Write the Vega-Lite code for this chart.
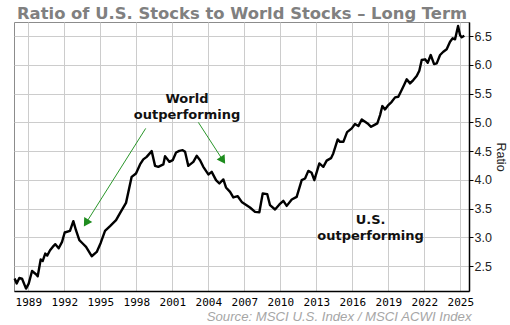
{
  "$schema": "https://vega.github.io/schema/vega-lite/v6.json",
  "width": 455,
  "height": 269,
  "autosize": {"type": "none"},
  "padding": {"left": 14, "top": 22, "right": 41, "bottom": 34},
  "background": "white",
  "config": {
    "view": {"stroke": "#8c8c8c", "strokeWidth": 1},
    "axis": {"gridColor": "#cccccc", "gridWidth": 1}
  },
  "title": {
    "text": "Ratio of U.S. Stocks to World Stocks – Long Term",
    "anchor": "start",
    "frame": "group",
    "dx": 3,
    "dy": 18,
    "offset": 5,
    "baseline": "alphabetic",
    "font": "DejaVu Sans",
    "fontSize": 16.4,
    "fontWeight": "bold",
    "color": "#808080"
  },
  "datasets": {
    "series": [
      {"year": 1987.86, "ratio": 2.286}, {"year": 1988.03, "ratio": 2.199}, {"year": 1988.25, "ratio": 2.297},
      {"year": 1988.47, "ratio": 2.286}, {"year": 1988.81, "ratio": 2.112}, {"year": 1989.03, "ratio": 2.199},
      {"year": 1989.31, "ratio": 2.418}, {"year": 1989.64, "ratio": 2.361}, {"year": 1989.78, "ratio": 2.326},
      {"year": 1990.03, "ratio": 2.617}, {"year": 1990.2, "ratio": 2.592}, {"year": 1990.41, "ratio": 2.721},
      {"year": 1990.58, "ratio": 2.686}, {"year": 1990.81, "ratio": 2.778}, {"year": 1991.03, "ratio": 2.836},
      {"year": 1991.25, "ratio": 2.883}, {"year": 1991.53, "ratio": 2.813}, {"year": 1991.81, "ratio": 2.923},
      {"year": 1992.03, "ratio": 3.086}, {"year": 1992.47, "ratio": 3.114}, {"year": 1992.75, "ratio": 3.283},
      {"year": 1992.97, "ratio": 3.126}, {"year": 1993.25, "ratio": 2.952}, {"year": 1993.53, "ratio": 2.895},
      {"year": 1993.81, "ratio": 2.836}, {"year": 1994.28, "ratio": 2.674}, {"year": 1994.7, "ratio": 2.749},
      {"year": 1995.03, "ratio": 2.905}, {"year": 1995.39, "ratio": 3.114}, {"year": 1995.81, "ratio": 3.196},
      {"year": 1996.31, "ratio": 3.3}, {"year": 1996.7, "ratio": 3.444}, {"year": 1997.14, "ratio": 3.601},
      {"year": 1997.61, "ratio": 4.053}, {"year": 1997.97, "ratio": 4.112}, {"year": 1998.31, "ratio": 4.269},
      {"year": 1998.58, "ratio": 4.356}, {"year": 1998.86, "ratio": 4.401}, {"year": 1999.28, "ratio": 4.5},
      {"year": 1999.56, "ratio": 4.244}, {"year": 1999.83, "ratio": 4.227}, {"year": 2000.25, "ratio": 4.269},
      {"year": 2000.39, "ratio": 4.413}, {"year": 2000.75, "ratio": 4.314}, {"year": 2001.03, "ratio": 4.343},
      {"year": 2001.31, "ratio": 4.477}, {"year": 2001.58, "ratio": 4.505}, {"year": 2001.86, "ratio": 4.517},
      {"year": 2002.06, "ratio": 4.488}, {"year": 2002.33, "ratio": 4.244}, {"year": 2002.75, "ratio": 4.314},
      {"year": 2003.03, "ratio": 4.418}, {"year": 2003.31, "ratio": 4.343}, {"year": 2003.58, "ratio": 4.227},
      {"year": 2004.0, "ratio": 4.095}, {"year": 2004.28, "ratio": 4.14}, {"year": 2004.64, "ratio": 3.996},
      {"year": 2004.92, "ratio": 3.938}, {"year": 2005.25, "ratio": 4.008}, {"year": 2005.47, "ratio": 3.869},
      {"year": 2005.81, "ratio": 3.792}, {"year": 2006.08, "ratio": 3.695}, {"year": 2006.45, "ratio": 3.717},
      {"year": 2006.78, "ratio": 3.618}, {"year": 2007.06, "ratio": 3.578}, {"year": 2007.47, "ratio": 3.521},
      {"year": 2007.89, "ratio": 3.444}, {"year": 2008.25, "ratio": 3.439}, {"year": 2008.53, "ratio": 3.764},
      {"year": 2008.91, "ratio": 3.752}, {"year": 2009.14, "ratio": 3.561}, {"year": 2009.56, "ratio": 3.486},
      {"year": 2009.92, "ratio": 3.573}, {"year": 2010.25, "ratio": 3.636}, {"year": 2010.53, "ratio": 3.549},
      {"year": 2010.95, "ratio": 3.66}, {"year": 2011.36, "ratio": 3.705}, {"year": 2011.78, "ratio": 3.996},
      {"year": 2012.06, "ratio": 4.025}, {"year": 2012.33, "ratio": 4.157}, {"year": 2012.61, "ratio": 4.123},
      {"year": 2012.83, "ratio": 3.996}, {"year": 2013.25, "ratio": 4.286}, {"year": 2013.58, "ratio": 4.227},
      {"year": 2013.86, "ratio": 4.335}, {"year": 2014.22, "ratio": 4.378}, {"year": 2014.41, "ratio": 4.46},
      {"year": 2014.78, "ratio": 4.703}, {"year": 2014.97, "ratio": 4.662}, {"year": 2015.25, "ratio": 4.662},
      {"year": 2015.56, "ratio": 4.83}, {"year": 2015.95, "ratio": 4.895}, {"year": 2016.22, "ratio": 4.97},
      {"year": 2016.5, "ratio": 4.935}, {"year": 2016.78, "ratio": 5.051}, {"year": 2017.06, "ratio": 5.01},
      {"year": 2017.33, "ratio": 4.97}, {"year": 2017.56, "ratio": 4.923}, {"year": 2017.81, "ratio": 4.952},
      {"year": 2018.08, "ratio": 4.982}, {"year": 2018.31, "ratio": 5.126}, {"year": 2018.5, "ratio": 5.283},
      {"year": 2018.72, "ratio": 5.225}, {"year": 2019.0, "ratio": 5.3}, {"year": 2019.28, "ratio": 5.357},
      {"year": 2019.56, "ratio": 5.434}, {"year": 2019.83, "ratio": 5.444}, {"year": 2020.11, "ratio": 5.561},
      {"year": 2020.31, "ratio": 5.648}, {"year": 2020.53, "ratio": 5.747}, {"year": 2020.81, "ratio": 5.677},
      {"year": 2021.08, "ratio": 5.735}, {"year": 2021.36, "ratio": 5.804}, {"year": 2021.58, "ratio": 5.897},
      {"year": 2021.78, "ratio": 6.083}, {"year": 2022.06, "ratio": 6.095}, {"year": 2022.28, "ratio": 6.036},
      {"year": 2022.53, "ratio": 6.17}, {"year": 2022.81, "ratio": 6.013}, {"year": 2023.03, "ratio": 6.025},
      {"year": 2023.31, "ratio": 6.17}, {"year": 2023.58, "ratio": 6.227}, {"year": 2023.86, "ratio": 6.269},
      {"year": 2024.14, "ratio": 6.401}, {"year": 2024.36, "ratio": 6.46}, {"year": 2024.56, "ratio": 6.443},
      {"year": 2024.81, "ratio": 6.674}, {"year": 2024.97, "ratio": 6.517}, {"year": 2025.11, "ratio": 6.477},
      {"year": 2025.33, "ratio": 6.505}
    ],
    "labels": [
      {"year": 2002.22, "ratio": 5.404, "line1": "World", "line2": "outperforming"},
      {"year": 2017.52, "ratio": 3.309, "line1": "U.S.", "line2": "outperforming"}
    ],
    "arrows": [
      {"id": "a1", "year": 1998.78, "ratio": 4.895, "year2": 1993.87, "ratio2": 3.272},
      {"id": "a2", "year": 2003.17, "ratio": 4.999, "year2": 2005.15, "ratio2": 4.361}
    ]
  },
  "encoding": {
    "x": {
      "field": "year",
      "type": "quantitative",
      "scale": {"domain": [1987.806, 2025.72], "nice": false, "zero": false},
      "axis": {
        "values": [1989, 1992, 1995, 1998, 2001, 2004, 2007, 2010, 2013, 2016, 2019, 2022, 2025],
        "format": "d",
        "grid": true,
        "ticks": false,
        "domainColor": "#000000",
        "domainWidth": 1.5,
        "labelFont": "DejaVu Sans Mono",
        "labelFontSize": 11,
        "labelColor": "#000000",
        "labelPadding": 5,
        "labelFlush": false,
        "title": "Source: MSCI U.S. Index / MSCI ACWI Index",
        "titleFont": "Liberation Sans",
        "titleFontStyle": "italic",
        "titleFontWeight": "normal",
        "titleFontSize": 13.2,
        "titleColor": "#a6a6a6",
        "titleAlign": "right",
        "titleAnchor": "end",
        "titleX": 457,
        "titleY": 29,
        "titleBaseline": "alphabetic"
      }
    },
    "y": {
      "field": "ratio",
      "type": "quantitative",
      "scale": {"domain": [2.07, 6.7435], "nice": false, "zero": false},
      "axis": {
        "orient": "right",
        "values": [2.5, 3, 3.5, 4, 4.5, 5, 5.5, 6, 6.5],
        "format": ".1f",
        "grid": true,
        "tickSize": 4,
        "tickColor": "#000000",
        "domainColor": "#000000",
        "domainWidth": 1.5,
        "labelFont": "Liberation Sans",
        "labelFontSize": 12.5,
        "labelColor": "#222222",
        "labelPadding": 1,
        "title": "Ratio",
        "titleFont": "Liberation Sans",
        "titleFontWeight": "normal",
        "titleFontSize": 12.5,
        "titleColor": "#222222",
        "titleAngle": 90,
        "titlePadding": 2
      }
    }
  },
  "layer": [
    {
      "data": {"name": "series"},
      "mark": {"type": "line", "color": "#000000", "strokeWidth": 2.4, "strokeJoin": "round"}
    },
    {
      "data": {"name": "arrows"},
      "mark": {"type": "rule", "color": "#2a962a", "strokeWidth": 1},
      "encoding": {
        "x2": {"field": "year2"},
        "y2": {"field": "ratio2"}
      }
    },
    {
      "data": {"name": "arrows"},
      "transform": [{"filter": "datum.id === 'a1'"}],
      "mark": {"type": "point", "shape": "triangle", "filled": true, "color": "#1e8c1e", "size": 90, "angle": 212, "opacity": 1},
      "encoding": {
        "x": {"field": "year2", "type": "quantitative"},
        "y": {"field": "ratio2", "type": "quantitative"}
      }
    },
    {
      "data": {"name": "arrows"},
      "transform": [{"filter": "datum.id === 'a2'"}],
      "mark": {"type": "point", "shape": "triangle", "filled": true, "color": "#1e8c1e", "size": 90, "angle": 147, "opacity": 1},
      "encoding": {
        "x": {"field": "year2", "type": "quantitative"},
        "y": {"field": "ratio2", "type": "quantitative"}
      }
    },
    {
      "data": {"name": "labels"},
      "transform": [{"calculate": "[datum.line1, datum.line2]", "as": "txt"}],
      "mark": {"type": "text", "font": "DejaVu Sans", "fontWeight": "bold", "fontSize": 13, "color": "#111111", "align": "center", "baseline": "middle", "lineHeight": 16},
      "encoding": {
        "text": {"field": "txt"}
      }
    }
  ]
}
